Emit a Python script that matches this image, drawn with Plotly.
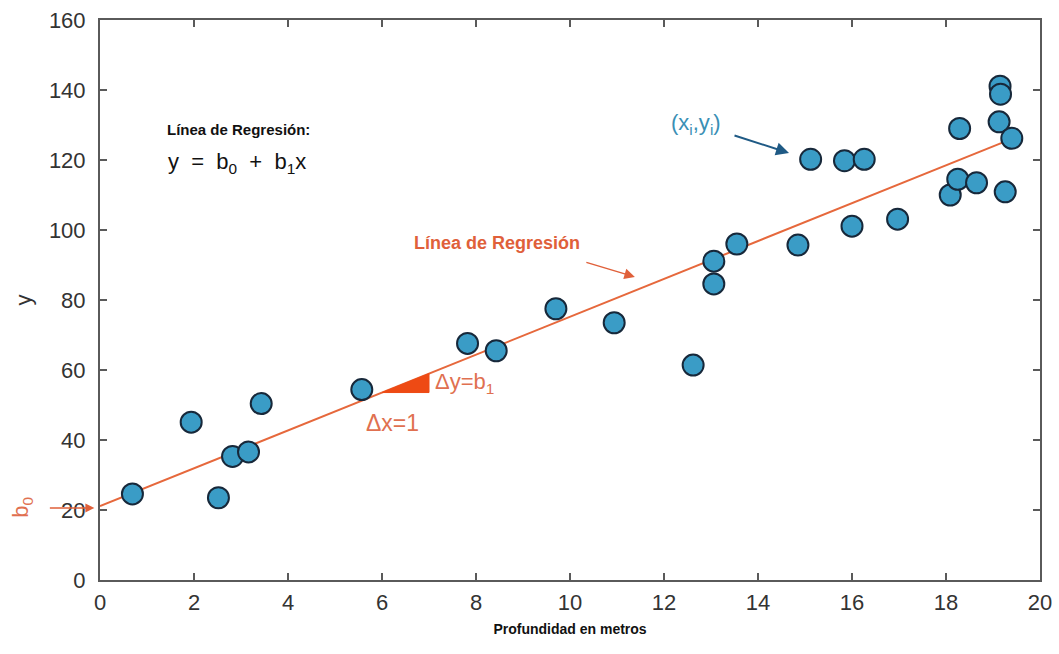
import plotly.graph_objects as go

# Data
x_vals = [0.69, 1.94, 2.52, 2.82, 3.16, 3.43, 5.57, 7.82, 8.43, 9.70, 10.94,
          12.62, 13.06, 13.06, 13.55, 14.85, 15.12, 15.84, 16.26, 16.0, 16.97,
          18.09, 18.25, 18.29, 18.65, 19.13, 19.15, 19.16, 19.26, 19.40]
y_vals = [24.6, 45.1, 23.5, 35.3, 36.6, 50.4, 54.4, 67.6, 65.5, 77.5, 73.5,
          61.4, 84.6, 91.1, 96.0, 95.7, 120.2, 119.8, 120.2, 101.1, 103.1,
          110.0, 114.5, 129.0, 113.5, 130.9, 141.1, 138.8, 110.9, 126.2]

b0 = 21.1
b1 = 5.41
line_x = [0, 19.2]
line_y = [b0 + b1 * v for v in line_x]

tri_x = [6, 7, 7, 6]
tri_y = [b0 + b1 * 6, b0 + b1 * 6, b0 + b1 * 7, b0 + b1 * 6]

x_ticks = [0, 2, 4, 6, 8, 10, 12, 14, 16, 18, 20]
y_ticks = [0, 20, 40, 60, 80, 100, 120, 140, 160]

ORANGE = "#e6683c"
FONT = "Liberation Sans, Arial, sans-serif"

fig = go.Figure()
fig.add_trace(go.Scatter(x=line_x, y=line_y, mode="lines",
                         line=dict(color=ORANGE, width=2), showlegend=False,
                         hoverinfo="skip"))
fig.add_trace(go.Scatter(x=tri_x, y=tri_y, mode="lines", fill="toself",
                         fillcolor="#ee4a14", line=dict(color="#ee4a14", width=1),
                         showlegend=False, hoverinfo="skip"))
fig.add_trace(go.Scatter(x=x_vals, y=y_vals, mode="markers",
                         marker=dict(size=21, color="#3a9cc6",
                                     line=dict(color="#17283a", width=2)),
                         showlegend=False))

axis_common = dict(showline=True, mirror="ticks", linecolor="#5a5a5a", linewidth=2,
                   ticks="inside", ticklen=7, tickwidth=2, tickcolor="#5a5a5a",
                   showgrid=False, zeroline=False, automargin=False,
                   tickfont=dict(family=FONT, size=22, color="#333333"))

fig.update_xaxes(range=[0, 20], tickvals=x_ticks, **axis_common,
                 ticklabelstandoff=2,
                 title=dict(text="<b>Profundidad en metros</b>",
                            font=dict(family=FONT, size=14, color="#111111"),
                            standoff=10))
fig.update_yaxes(range=[0, 160], tickvals=y_ticks, **axis_common,
                 ticklabelstandoff=8,
                 title=dict(text="y", font=dict(family=FONT, size=22, color="#333333"),
                            standoff=11))

annotations = [
    dict(x=1.38, y=128.6, text="<b>Línea de Regresión:</b>", xanchor="left",
         showarrow=False, font=dict(family=FONT, size=15, color="#111111")),
    dict(x=1.40, y=119.1, text="y  =  b<sub>0</sub>  +  b<sub>1</sub>x", xanchor="left",
         showarrow=False, font=dict(family=FONT, size=22, color="#111111")),
    dict(x=12.68, y=130.3, text="(x<sub>i</sub>,y<sub>i</sub>)", xanchor="center",
         showarrow=False, font=dict(family=FONT, size=22, color="#3a8fb5")),
    dict(x=14.66, y=122.0, text="", showarrow=True, ax=-56, ay=-18,
         arrowhead=2, arrowsize=1.3, arrowwidth=2, arrowcolor="#1f5a85"),
    dict(x=8.45, y=96.3, text="<b>Línea de Regresión</b>", xanchor="center",
         showarrow=False, font=dict(family=FONT, size=18, color="#e0603a")),
    dict(x=11.38, y=86.6, text="", showarrow=True, ax=-50, ay=-15,
         arrowhead=2, arrowsize=1.4, arrowwidth=1.5, arrowcolor="#e0603a"),
    dict(x=7.09, y=56.3, text="Δy=b<sub>1</sub>", xanchor="left",
         showarrow=False, font=dict(family=FONT, size=22, color="#e07050")),
    dict(x=5.62, y=45.0, text="Δx=1", xanchor="left",
         showarrow=False, font=dict(family=FONT, size=23, color="#e07050")),
    dict(x=-0.083, y=20.9, xref="paper", yref="y", text="b<sub>0</sub>", textangle=-90,
         xanchor="center", yanchor="middle",
         showarrow=False, font=dict(family=FONT, size=22, color="#e07050")),
    dict(x=-0.006, y=20.6, xref="paper", yref="y", text="", showarrow=True,
         ax=-46, ay=0, arrowhead=2, arrowsize=1.2, arrowwidth=1.5,
         arrowcolor="#e0603a"),
]

fig.update_layout(width=1059, height=654,
                  margin=dict(l=100, r=19, t=20, b=74),
                  paper_bgcolor="white", plot_bgcolor="white",
                  annotations=annotations,
                  font=dict(family=FONT))

# remove the browser's default body margin so the figure fills the window exactly
fig.write_html("out.html", config={"displayModeBar": False},
               post_script="document.body.style.margin='0';document.body.style.overflow='hidden';")
